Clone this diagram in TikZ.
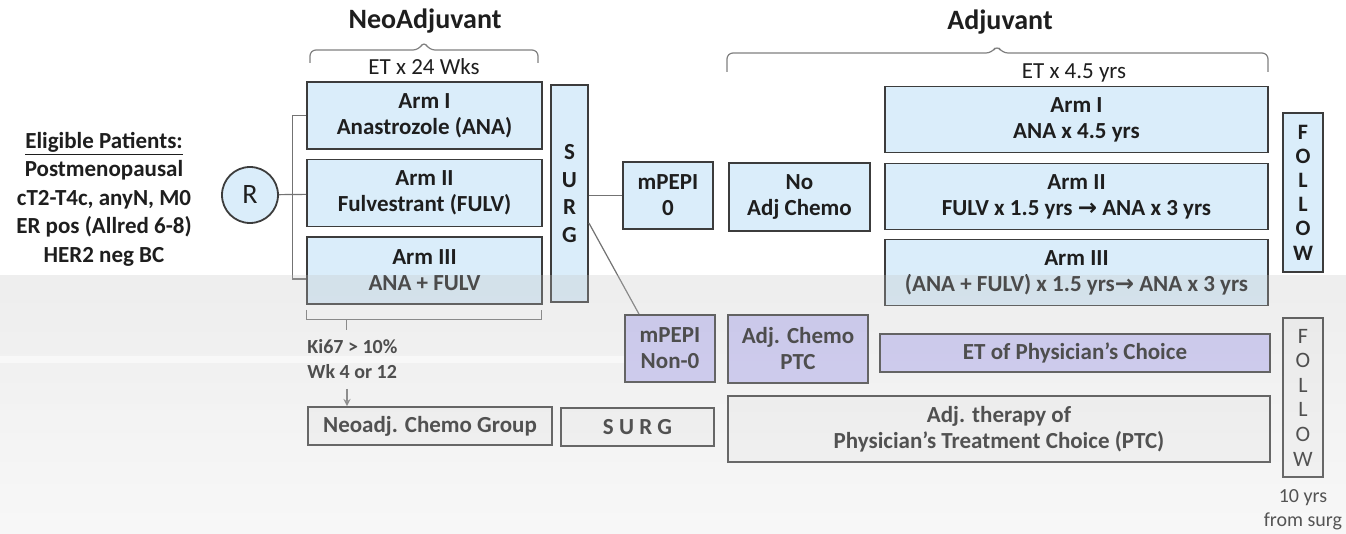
\documentclass[tikz,border=0pt]{standalone}
\usepackage{fontspec}
\setmainfont{Carlito}
\newfontfamily\arrowfont{DejaVu Sans}
\usetikzlibrary{shapes.geometric, arrows}

\definecolor{armblue}{RGB}{218,237,250}
\definecolor{pcpurple}{RGB}{205,202,248}
\definecolor{ptcgray}{RGB}{248,248,248}
\definecolor{edge}{RGB}{60,60,60}
\definecolor{ink}{RGB}{30,30,30}

\newcommand{\boxfont}{\bfseries\fontsize{11.5}{13}\selectfont}

\tikzstyle{phasetitle} = [text=ink, font=\bfseries\fontsize{14}{16}\selectfont]
\tikzstyle{etlabel} = [text=ink, font=\fontsize{11.5}{13}\selectfont]
\tikzstyle{elig} = [text=ink, align=center, font=\bfseries\fontsize{11.5}{14.25}\selectfont]
\tikzstyle{armbox} = [rectangle, draw=edge, line width=0.9pt, fill=armblue, text=ink, font=\boxfont, align=center, inner sep=0pt]
\tikzstyle{neoarm} = [armbox, minimum width=117.5pt, minimum height=33.5pt]
\tikzstyle{adjarm} = [armbox, minimum width=191.5pt, minimum height=33pt]
\tikzstyle{pcbox} = [armbox, fill=pcpurple]
\tikzstyle{ptcbox} = [armbox, fill=ptcgray]
\tikzstyle{line} = [draw=black!55, line width=0.6pt]
\tikzstyle{arrow} = [line, ->, >=stealth]
\tikzstyle{bracket} = [draw=black!50, line width=0.6pt, rounded corners=3pt]

\begin{document}
\begin{tikzpicture}[x=0.5pt, y=-0.5pt, node distance=38.75pt]
\useasboundingbox[fill=white] (0,0) rectangle (1346,534);

% headings
\node (neotitle) [phasetitle] at (425,21) {NeoAdjuvant};
\node (adjtitle) [phasetitle] at (1000,22) {Adjuvant};
\node (neoet) [etlabel] at (424,67) {ET x 24 Wks};
\node (adjet) [etlabel] at (1074,73) {ET x 4.5 yrs};
\draw [bracket] (310,63) -- (310,50) -- (419,50) -- (424,41) -- (429,50) -- (538,50) -- (538,63);
\draw [bracket] (727,72) -- (727,53) -- (992,53) -- (997,45) -- (1002,53) -- (1268,53) -- (1268,72);

% eligibility and randomisation
\node (elig) [elig] at (104,199) {\underline{Eligible Patients:}\\Postmenopausal\\cT2-T4c, anyN, M0\\ER pos (Allred 6-8)\\HER2 neg BC};
\node (rand) [circle, draw=edge, line width=0.9pt, fill=armblue, minimum size=28pt, inner sep=0pt, text=ink, font=\fontsize{14}{14}\selectfont] at (250,195) {R};

% neoadjuvant arms
\node (armI) [neoarm] at (424.5,115.5) {Arm I\\Anastrozole (ANA)};
\node (armII) [neoarm, below of=armI] {Arm II\\Fulvestrant (FULV)};
\node (armIII) [neoarm, below of=armII] {Arm III\\ANA + FULV};
\node (surg) [armbox, minimum width=18.5pt, minimum height=108.5pt, font=\bfseries\fontsize{11.5}{13.75}\selectfont] at (569.5,193.5) {S\\U\\R\\G};

% mPEPI 0
\node (pepi0) [armbox, minimum width=45pt, minimum height=33.5pt] at (668,195.5) {mPEPI\\0};
\node (nochemo) [armbox, minimum width=70.5pt, minimum height=34pt] at (799.5,197) {No\\Adj Chemo};
\node (adjI) [adjarm] at (1076.5,119.5) {Arm I\\ANA x 4.5 yrs};
\node (adjII) [adjarm, below of=adjI, yshift=0.25pt] {Arm II\\FULV x 1.5 yrs {\arrowfont\bfseries →} ANA x 3 yrs};
\node (adjIII) [adjarm, below of=adjII, yshift=0.75pt] {Arm III\\(ANA + FULV) x 1.5 yrs{\arrowfont\bfseries →} ANA x 3 yrs};
\node (follow) [armbox, minimum width=20pt, minimum height=79.5pt, font=\bfseries\fontsize{11}{12.1}\selectfont] at (1303,192.5) {F\\O\\L\\L\\O\\W};

% mPEPI non-0
\node (pepiN) [pcbox, minimum width=45pt, minimum height=33.5pt] at (670,348.5) {mPEPI\\Non-0};
\node (chemoptc) [pcbox, minimum width=70pt, minimum height=34pt] at (798,349) {Adj. Chemo\\PTC};
\node (etptc) [pcbox, minimum width=195pt, minimum height=19pt] at (1075,353) {ET of Physician’s Choice};
\node (followN) [ptcbox, minimum width=20pt, minimum height=79.5pt, font=\fontsize{11}{12.3}\selectfont] at (1303,397.5) {F\\O\\L\\L\\O\\W};

% neoadjuvant chemo group
\node (ki) [anchor=west, align=left, text=ink, font=\bfseries\fontsize{10}{12.5}\selectfont, inner sep=0pt] at (307,359.5) {Ki67 > 10\%\\Wk 4 or 12};
\node (neochemo) [ptcbox, minimum width=122pt, minimum height=19pt] at (430,426) {Neoadj. Chemo Group};
\node (surgN) [ptcbox, minimum width=76.5pt, minimum height=19pt] at (637.5,427) {S U R G};
\node (adjther) [ptcbox, minimum width=271pt, minimum height=33pt] at (999,429) {Adj. therapy of\\Physician’s Treatment Choice (PTC)};
\node (note) [align=center, text=ink, font=\fontsize{10}{12}\selectfont] at (1303,510) {10 yrs\\from surg};

% connectors
\draw [line] (rand) -- (armII);
\draw [line] (armI.west) -- ++(-14,0) |- ([yshift=-4.25pt]armIII.west);
\draw [line] (surg.east |- pepi0.west) -- (pepi0.west);
\draw [line] ([yshift=-14.75pt]surg.east) -- ([xshift=-15.5pt]pepiN.north);
\draw [line] ([yshift=-2.5pt]armIII.south west) -- ++(0,10) -- ++(235,0) -- ++(0,-10);
\draw [line] ([shift={(40,15)}]armIII.south west) -- ++(0,10);
\coordinate (kiend) at (347,389);
\draw [arrow] (kiend) -- (kiend |- neochemo.north);

% grey band of the slide
\shade [top color=black!24, bottom color=black!10, opacity=0.28] (0,276) rectangle (1346,534);
\fill [white, opacity=0.55] (0,356) rectangle (pepiN.west |- 0,363);

\end{tikzpicture}
\end{document}
